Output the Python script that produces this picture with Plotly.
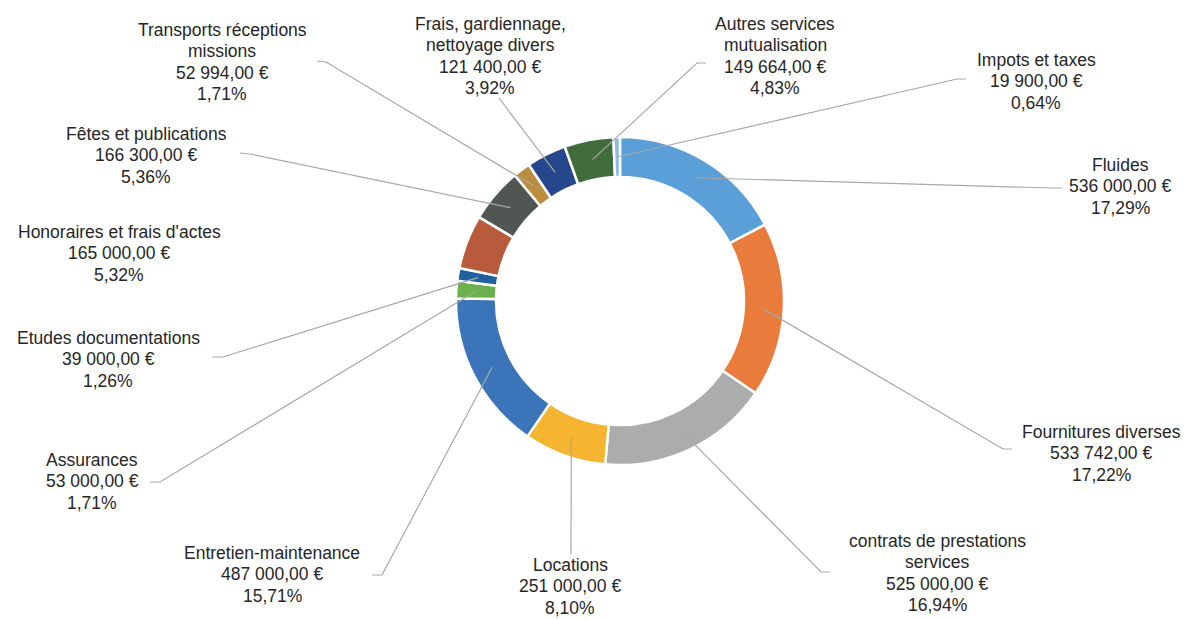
import math
import plotly.graph_objects as go

# ---- data ----
categories = [
    "Fluides",
    "Fournitures diverses",
    "contrats de prestations<br>services",
    "Locations",
    "Entretien-maintenance",
    "Assurances",
    "Etudes documentations",
    "Honoraires et frais d'actes",
    "Fêtes et publications",
    "Transports réceptions<br>missions",
    "Frais, gardiennage,<br>nettoyage divers",
    "Autres services<br>mutualisation",
    "Impots et taxes",
]
values = [536000, 533742, 525000, 251000, 487000, 53000, 39000,
          165000, 166300, 52994, 121400, 149664, 19900]

# ---- style ----
colors = ["#5B9FD8", "#E97B3C", "#ABACAE", "#F5B530", "#3C74B9", "#6BB04A",
          "#22619F", "#B85B3C", "#505753", "#BA8E3F", "#26478C", "#416C3C",
          "#8BBCE6"]

W, H = 1185, 619
CX, CY, R_OUT, R_IN = 620, 301, 164, 124
R_MID = (R_OUT + R_IN) / 2
LINE_H = 21.4
FONT = dict(family="Liberation Sans, Arial, sans-serif", size=17.5, color="#262626")
LEADER = "#A8A8A8"

# label placement (px): centre x, first line y, leader anchor, stub end (None = no leader)
label_layout = [
    (1120, 165, (1062, 188), (1051, 188)),
    (1101, 432, (1012, 449), (1003, 449)),
    (937, 541, (830, 572), (821, 572)),
    (570, 565, (571, 554), None),
    (272, 553, (372, 575), (382, 575)),
    (92, 460, (150, 482), (160, 482)),
    (108, 338, (212, 357), (223, 357)),
    (119, 232, None, None),
    (146, 134, (240, 153), (250, 154)),
    (222, 30, (317, 61), (326, 62)),
    (490, 24, (499, 98), None),
    (775, 24, (706, 63), (697, 63)),
    (1036, 60, (966, 79), (957, 79)),
]


def px(x, y):
    return x / W, 1 - y / H


total = sum(values)
fig = go.Figure()
fig.add_trace(go.Pie(
    labels=[c.replace("<br>", " ") for c in categories],
    values=values,
    sort=False,
    direction="clockwise",
    rotation=0,
    hole=R_IN / R_OUT,
    textinfo="none",
    hoverinfo="label+value+percent",
    marker=dict(colors=colors, line=dict(color="white", width=2.5)),
    domain=dict(x=[(CX - R_OUT) / W, (CX + R_OUT) / W],
                y=[1 - (CY + R_OUT) / H, 1 - (CY - R_OUT) / H]),
    showlegend=False,
))

annotations = []
shapes = []
cum = 0
for cat, v, (lx, ly, anchor, stub) in zip(categories, values, label_layout):
    frac_mid = (cum + v / 2) / total
    cum += v
    ang = 2 * math.pi * frac_mid
    sx = CX + R_MID * math.sin(ang)
    sy = CY - R_MID * math.cos(ang)
    val_txt = f"{v:,.2f}".replace(",", " ").replace(".", ",") + " €"
    pct_txt = f"{v / total * 100:.2f}".replace(".", ",") + "%"
    lines = cat.split("<br>") + [val_txt, pct_txt]
    for i, t in enumerate(lines):
        ax, ay = px(lx, ly + i * LINE_H)
        annotations.append(dict(x=ax, y=ay, xref="paper", yref="paper", text=t,
                                showarrow=False, xanchor="center", yanchor="middle",
                                font=FONT))
    if anchor is not None:
        pts = [anchor]
        if stub is not None:
            pts.append(stub)
        pts.append((sx, sy))
        path = "M " + " L ".join(f"{px(x, y)[0]},{px(x, y)[1]}" for x, y in pts)
        shapes.append(dict(type="path", path=path, xref="paper", yref="paper",
                           line=dict(color=LEADER, width=1.2), layer="above"))

fig.update_layout(
    width=W, height=H,
    margin=dict(l=0, r=0, t=0, b=0),
    paper_bgcolor="white", plot_bgcolor="white",
    annotations=annotations, shapes=shapes,
)

fig.write_html("out.html", config={"displayModeBar": False},
               post_script="document.body.style.margin='0';")
